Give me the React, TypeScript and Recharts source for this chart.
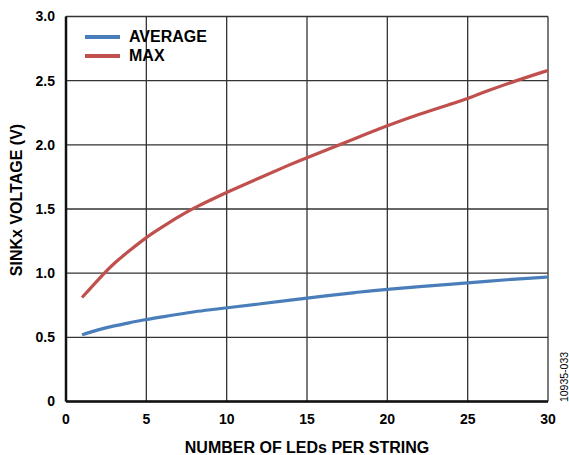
import React from 'react';
import { LineChart, Line, XAxis, YAxis, CartesianGrid, Legend, Label } from 'recharts';

const leds = [1, 2, 3, 4, 5, 6, 7, 8, 9, 10, 12, 14, 15, 16, 18, 20, 22, 24, 25, 26, 28, 30];
const average = [0.52, 0.56, 0.59, 0.615, 0.64, 0.66, 0.68, 0.70, 0.715, 0.73, 0.76, 0.79, 0.805, 0.82, 0.85, 0.875, 0.895, 0.915, 0.925, 0.935, 0.955, 0.97];
const max = [0.81, 0.95, 1.08, 1.18, 1.28, 1.36, 1.44, 1.51, 1.57, 1.63, 1.74, 1.85, 1.90, 1.95, 2.05, 2.15, 2.24, 2.32, 2.36, 2.41, 2.50, 2.58];
const xTicks = [0, 5, 10, 15, 20, 25, 30];
const yTicks = [0, 0.5, 1.0, 1.5, 2.0, 2.5, 3.0];

const data = leds.map((x, i) => ({ x, average: average[i], max: max[i] }));

const FONT = 'Liberation Sans, Arial, sans-serif';

const LegendContent = (props: any) => {
  const { payload } = props;
  return (
    <div style={{ fontFamily: FONT }}>
      {(payload || []).map((p: any) => (
        <div key={p.value} style={{ display: 'flex', alignItems: 'center', height: 19 }}>
          <div style={{ width: 35, height: 4, background: p.color, marginRight: 9 }} />
          <span style={{ fontWeight: 'bold', fontSize: 16, color: '#000' }}>{p.value}</span>
        </div>
      ))}
    </div>
  );
};

export default function App() {
  return (
    <div style={{ position: 'absolute', left: 0, top: 0, width: 569, height: 455, background: '#fff' }}>
      <LineChart width={569} height={455} data={data} margin={{ top: 16.5, right: 21, bottom: 23.5, left: 26 }}>
        <CartesianGrid yAxisId="left" stroke="#333" strokeWidth={1.3} horizontalValues={yTicks} verticalValues={xTicks} />
        <XAxis
          dataKey="x"
          type="number"
          domain={[0, 30]}
          ticks={xTicks}
          tickLine={false}
          tickSize={0}
          tickMargin={13}
          height={30}
          axisLine={{ stroke: '#111', strokeWidth: 2.5 }}
          tick={{ fill: '#000', fontSize: 14, fontWeight: 'bold', fontFamily: FONT }}
        >
          <Label
            value="NUMBER OF LEDs PER STRING"
            position="insideBottom"
            offset={-21}
            style={{ fill: '#000', fontSize: 16, fontWeight: 'bold', fontFamily: FONT }}
          />
        </XAxis>
        <YAxis
          yAxisId="left"
          type="number"
          domain={[0, 3]}
          ticks={yTicks}
          tickFormatter={(v: number) => (v === 0 ? '0' : v.toFixed(1))}
          tickLine={false}
          tickSize={0}
          tickMargin={11}
          width={40}
          axisLine={{ stroke: '#111', strokeWidth: 2.5 }}
          tick={{ fill: '#000', fontSize: 14, fontWeight: 'bold', fontFamily: FONT }}
        >
          <Label
            value="SINKx VOLTAGE (V)"
            position="insideLeft"
            content={() => (
              <text
                x={16}
                y={200}
                transform="rotate(-90, 16, 200)"
                textAnchor="middle"
                dominantBaseline="central"
                style={{ fill: '#000', fontSize: 16, fontWeight: 'bold', fontFamily: FONT }}
              >
                SINKx VOLTAGE (V)
              </text>
            )}
          />
        </YAxis>
        <YAxis
          yAxisId="right"
          orientation="right"
          type="number"
          domain={[0, 3]}
          ticks={yTicks}
          tick={false}
          tickLine={false}
          width={0}
          axisLine={{ stroke: '#111', strokeWidth: 2.5 }}
        />
        <Legend
          layout="vertical"
          verticalAlign="middle"
          align="center"
          content={<LegendContent />}
          wrapperStyle={{ position: 'absolute', left: 85, top: 27.5, width: 'auto', height: 'auto' }}
        />
        <Line yAxisId="left" name="AVERAGE" type="basis" dataKey="average" stroke="#4a7ebb" strokeWidth={3.2} dot={false} isAnimationActive={false} />
        <Line yAxisId="left" name="MAX" type="basis" dataKey="max" stroke="#c0504d" strokeWidth={3.2} dot={false} isAnimationActive={false} />
      </LineChart>
      <div
        style={{
          position: 'absolute',
          left: 564,
          top: 377,
          transform: 'translate(-50%, -50%) rotate(-90deg)',
          fontFamily: FONT,
          fontSize: 10.5,
          color: '#000',
          whiteSpace: 'nowrap',
          lineHeight: 1,
        }}
      >
        10935-033
      </div>
    </div>
  );
}
